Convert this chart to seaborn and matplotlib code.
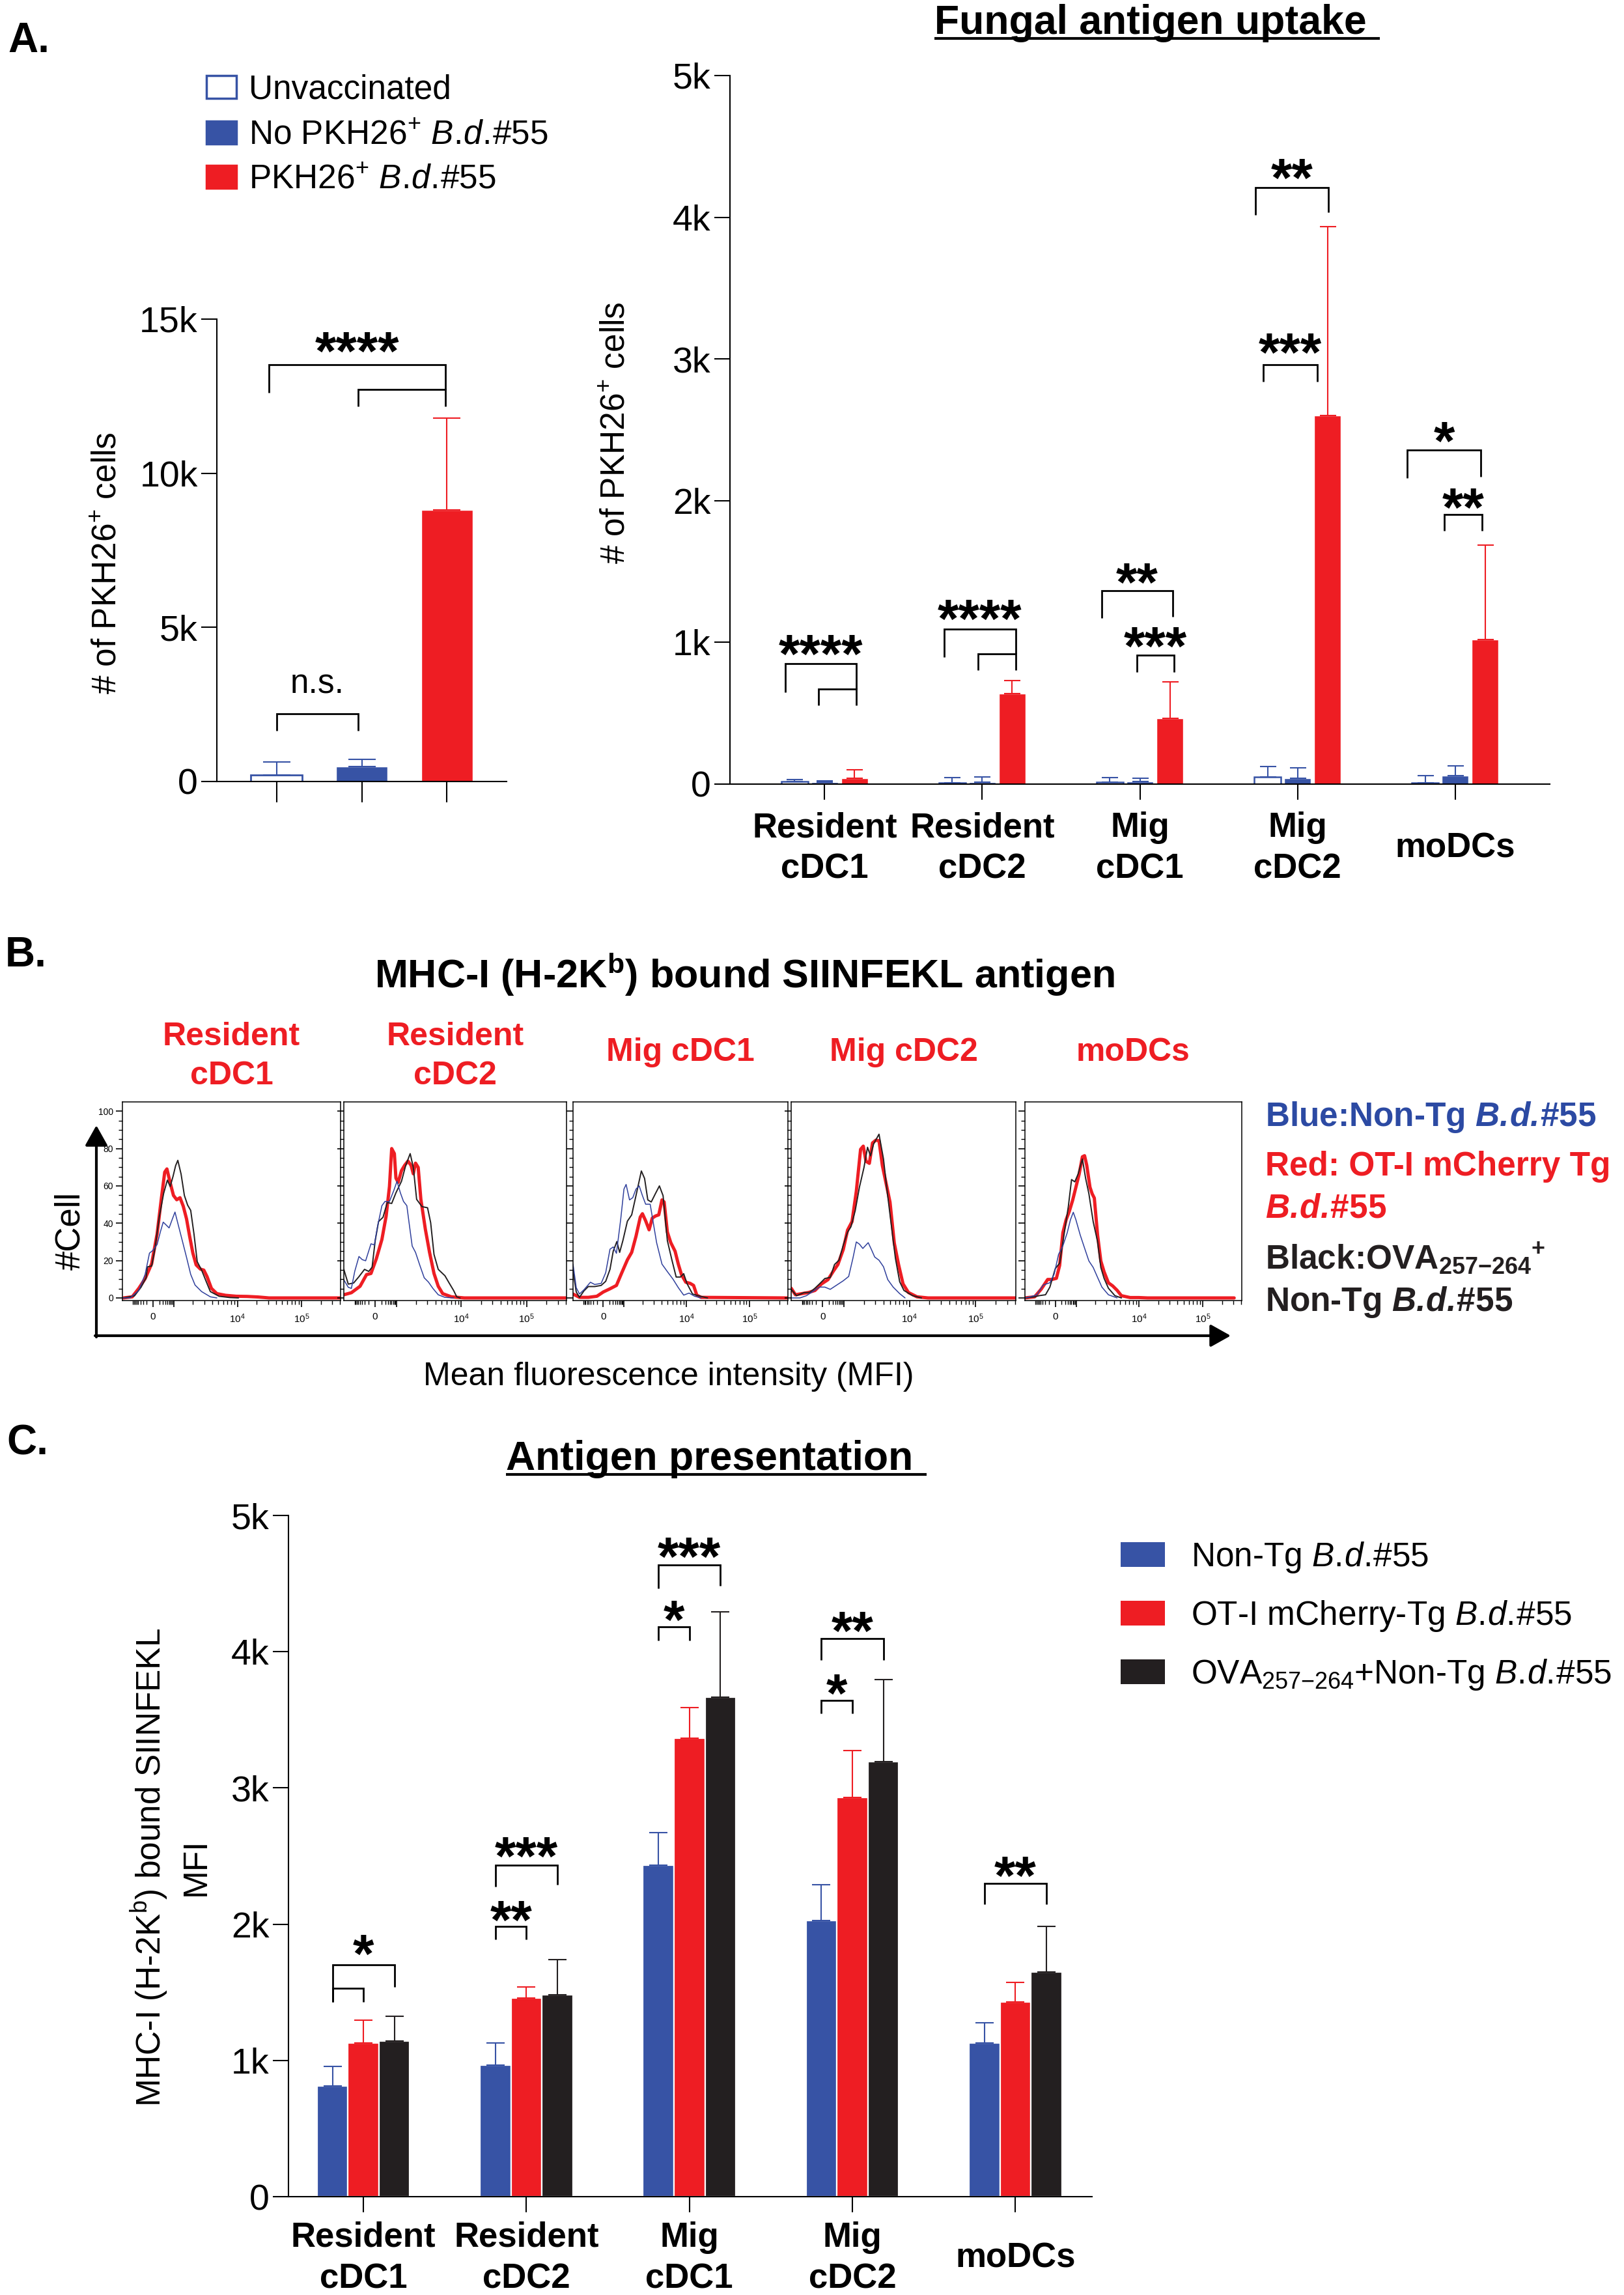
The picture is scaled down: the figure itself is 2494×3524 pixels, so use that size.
import numpy as np
import pandas as pd
import matplotlib
matplotlib.use("Agg")
import matplotlib.pyplot as plt
from matplotlib.patches import Rectangle
from matplotlib.ticker import FixedLocator, FixedFormatter, FuncFormatter, MultipleLocator
import seaborn as sns

# ── Canvas ───────────────────────────────────────────────────────────────────
W, H, DPI = 2494, 3524, 100

BLUE = "#3753A5"
RED = "#EE1D23"
BLACK = "#231F20"
TXT_BLUE = "#2C4AA3"
HIST_BLUE = "#30409C"

# ── Panel A (left): total PKH26+ cells ───────────────────────────────────────
A_GROUPS = ["Unvaccinated", "No PKH26+ B.d.#55", "PKH26+ B.d.#55"]
A_TOTAL_MEAN = [220, 490, 8800]
A_TOTAL_SD = [420, 235, 2990]

# ── Panel A (right): uptake per DC subset ────────────────────────────────────
CELL_TYPES = ["Resident\ncDC1", "Resident\ncDC2", "Mig\ncDC1", "Mig\ncDC2", "moDCs"]
UPTAKE_UNVAC = [20, 10, 12, 50, 10]
UPTAKE_UNVAC_SD = [10, 35, 33, 75, 50]
UPTAKE_NOPKH = [15, 15, 20, 40, 60]
UPTAKE_NOPKH_SD = [10, 35, 20, 75, 70]
UPTAKE_PKH = [40, 640, 465, 2600, 1020]
UPTAKE_PKH_SD = [60, 90, 255, 1335, 665]

# ── Panel C: SIINFEKL presentation MFI ───────────────────────────────────────
C_GROUPS = ["Non-Tg", "OT-I mCherry-Tg", "OVA+Non-Tg"]
MFI_NONTG = [815, 964, 2435, 2028, 1129]
MFI_NONTG_SD = [141, 165, 238, 262, 149]
MFI_OTI = [1129, 1460, 3367, 2931, 1431]
MFI_OTI_SD = [165, 80, 222, 343, 142]
MFI_OVA = [1141, 1484, 3665, 3194, 1649]
MFI_OVA_SD = [182, 258, 629, 600, 335]

# ── Panel B: histograms (x = display channel 0-1000, y = % of max) ───────────
HIST_TITLES = ["Resident\ncDC1", "Resident\ncDC2", "Mig cDC1", "Mig cDC2", "moDCs"]

H1_BLUE_X = [0, 35, 75, 104, 124, 139, 159, 174, 187, 202, 214, 229, 241, 254, 274, 294, 313, 333, 363, 403, 433]
H1_BLUE_Y = [0, 0, 4, 12.6, 24, 25.4, 28.6, 35.4, 40.6, 38.9, 37.5, 42.3, 46, 40, 30.9, 21.7, 12.6, 6.9, 3.4, 0.6, 0]
H1_RED_X = [5, 45, 75, 104, 134, 159, 179, 194, 204, 219, 234, 249, 264, 279, 294, 308, 323, 338, 358, 373, 388, 408, 433, 473, 522, 572, 622, 672, 1000]
H1_RED_Y = [0, 0.6, 5.1, 10.3, 18.3, 34.3, 53.7, 67.4, 69.1, 61.7, 54.9, 52.6, 53.7, 49.1, 42.3, 33.1, 24, 17.7, 15.4, 14.9, 11.4, 5.1, 2.3, 1.4, 0.9, 0.8, 0.5, 0, 0]
H1_BLACK_X = [5, 55, 85, 109, 114, 134, 149, 169, 189, 206, 219, 232, 244, 254, 269, 284, 299, 313, 328, 343, 363, 383, 403, 443, 493, 532]
H1_BLACK_Y = [0, 1.1, 5.7, 10.9, 16.6, 17.1, 26.3, 43.4, 56, 63.1, 59.7, 65.1, 70.9, 73.7, 66.3, 54.9, 49.7, 46.9, 34.3, 19.4, 14.9, 9.1, 3.4, 0.9, 0.2, 0]

H2_BLUE_X = [0, 20, 34, 49, 68, 83, 98, 122, 137, 151, 171, 185, 205, 224, 239, 254, 268, 283, 293, 307, 322, 341, 361, 380, 400, 424, 454, 493]
H2_BLUE_Y = [9.7, 5.7, 5.1, 14.2, 22.2, 20.5, 19.9, 29, 28.4, 38, 49.4, 51.7, 51.7, 57.4, 62.5, 56.3, 51.7, 49.4, 40.3, 27.8, 24.4, 17.6, 10.8, 8.5, 5.1, 1.7, 0.3, 0]
H2_RED_X = [0, 34, 73, 102, 122, 146, 171, 190, 205, 215, 227, 234, 244, 259, 273, 288, 302, 312, 322, 334, 346, 366, 385, 405, 424, 444, 483, 541, 1000]
H2_RED_Y = [1.7, 2.8, 6.25, 12.5, 13.1, 21, 31.3, 43.8, 59.7, 80, 77.3, 64.2, 61.9, 68.2, 71, 73.3, 71, 66.5, 72.2, 69.9, 52.8, 36.9, 24.4, 13.1, 6.25, 2.3, 0.6, 0, 0]
H2_BLACK_X = [0, 20, 44, 68, 93, 112, 127, 141, 156, 176, 195, 215, 234, 259, 278, 298, 312, 327, 351, 376, 390, 405, 424, 454, 473, 493, 507, 522]
H2_BLACK_Y = [15.3, 7.4, 8, 11.4, 15.3, 14.2, 16.5, 30.7, 40.9, 43.2, 51.1, 50.6, 56.3, 62.5, 71, 77.3, 70, 52.8, 48.9, 48.3, 40.3, 23.3, 15.3, 11.9, 8, 4, 0.6, 0]

H3_BLUE_X = [0, 15, 30, 51, 81, 101, 131, 152, 172, 187, 202, 222, 237, 247, 263, 278, 293, 308, 323, 338, 359, 374, 389, 414, 439, 465, 490, 515, 540, 566, 596]
H3_BLUE_Y = [18.1, 5.5, 2.1, 4.4, 8.4, 7.2, 7.8, 13.5, 26.1, 27.3, 23.9, 42.2, 58.3, 60.8, 52.5, 53.7, 58.3, 60, 54.8, 50.2, 50.2, 39.9, 29.6, 18.1, 14.1, 10.1, 5.5, 1.5, 2.6, 0.9, 0]
H3_RED_X = [0, 30, 71, 111, 141, 172, 202, 227, 253, 273, 293, 313, 323, 338, 354, 369, 384, 399, 414, 424, 439, 455, 475, 490, 505, 525, 545, 561, 576, 596, 1000]
H3_RED_Y = [2.1, 0.3, 0.3, 0.9, 3.2, 4.9, 6.7, 13.5, 20.4, 24.4, 33, 43.3, 45.1, 41.3, 36.5, 42.8, 43.9, 44.5, 52.5, 51.4, 35.3, 29.6, 25, 18.1, 12.4, 8.4, 7.8, 6.7, 1.5, 0.3, 0]
H3_BLACK_X = [0, 15, 30, 51, 71, 101, 131, 152, 172, 187, 204, 217, 232, 253, 273, 293, 318, 333, 348, 364, 384, 402, 419, 439, 460, 480, 500, 515, 530, 556, 586, 626]
H3_BLACK_Y = [14.7, 3.2, 0.3, 3.8, 6.1, 6.1, 6.7, 8.9, 15.3, 25, 30.2, 24.4, 30.7, 41.1, 44.5, 54.8, 68, 64, 52.5, 51.4, 56, 60, 54.8, 30.7, 20.4, 11.2, 11.2, 13, 7.8, 2.1, 1.1, 0]

H4_BLUE_X = [0, 39, 68, 97, 126, 150, 174, 203, 232, 256, 275, 290, 304, 319, 343, 357, 372, 391, 411, 430, 454, 483, 507]
H4_BLUE_Y = [0, 0, 1.2, 3.5, 5.8, 5.8, 4.6, 6.9, 9.2, 11.5, 21.3, 30, 28.8, 26.5, 29.6, 26, 21.9, 20.2, 16.7, 9.8, 5.8, 2.3, 0]
H4_RED_X = [0, 19, 48, 77, 106, 135, 164, 188, 208, 232, 251, 271, 290, 309, 321, 333, 348, 362, 377, 391, 406, 425, 440, 459, 478, 498, 522, 560, 609, 1000]
H4_RED_Y = [5.2, 1.7, 2.3, 2.9, 4, 7.5, 9.8, 14.4, 17.9, 26, 36.3, 40.9, 57.1, 79.6, 81.3, 73.2, 72.1, 83, 84.5, 84.2, 70.9, 60, 51.3, 29.4, 17.9, 7.5, 2.9, 0.6, 0, 0]
H4_BLACK_X = [0, 24, 58, 82, 106, 126, 150, 174, 193, 213, 232, 251, 266, 285, 304, 324, 340, 353, 367, 391, 411, 425, 445, 464, 483, 502, 541, 580]
H4_BLACK_Y = [4.6, 1.2, 2.9, 2.9, 5.2, 7.5, 10.4, 11, 17.9, 20.2, 28.3, 35.2, 38.1, 46.7, 59.4, 69.8, 80.7, 76.1, 82.5, 87.7, 74.4, 59.4, 39.8, 21.3, 8.7, 4, 1.2, 0]

H5_BLUE_X = [0, 25, 55, 85, 115, 135, 155, 175, 195, 210, 223, 235, 255, 275, 295, 315, 335, 355, 385, 425]
H5_BLUE_Y = [0, 0.6, 1.7, 7, 8.1, 12.8, 23.3, 27.9, 34.9, 41.9, 45.9, 41.9, 33.7, 26.7, 19.8, 16.3, 11, 5.8, 1.7, 0]
H5_RED_X = [0, 45, 75, 105, 125, 145, 160, 175, 190, 205, 220, 235, 250, 265, 275, 285, 300, 310, 320, 335, 350, 365, 385, 405, 425, 445, 485, 525, 565, 965]
H5_RED_Y = [0, 0.6, 4.7, 9.9, 9.9, 10.5, 17.4, 34.9, 41.9, 46.5, 52.3, 59.3, 66.3, 75.6, 76.2, 71.1, 59.3, 55.8, 53.5, 33.7, 19.8, 14, 8.1, 6.4, 4.1, 1.2, 0.2, 0.2, 0, 0]
H5_BLACK_X = [0, 45, 65, 95, 115, 140, 160, 180, 200, 215, 230, 245, 265, 280, 295, 315, 335, 350, 365, 385, 415, 445]
H5_BLACK_Y = [0, 0.6, 1.2, 1.7, 5.8, 15.7, 18.6, 33.7, 48.8, 63.4, 62.2, 66.3, 74.4, 64, 55.8, 40.7, 30.2, 16.3, 10.5, 5.2, 1.2, 0]

# ── Style ────────────────────────────────────────────────────────────────────
sns.set_style("ticks")
plt.rcParams.update({
    "font.family": ["Liberation Sans", "DejaVu Sans"],
    "text.color": "black",
    "axes.edgecolor": "black",
    "axes.labelcolor": "black",
    "xtick.color": "black",
    "ytick.color": "black",
    "axes.linewidth": 1.5,
    "mathtext.fontset": "custom",
    "mathtext.rm": "Liberation Sans",
    "mathtext.it": "Liberation Sans:italic",
    "mathtext.bf": "Liberation Sans:bold",
    "mathtext.bfit": "Liberation Sans:italic:bold",
    "mathtext.sf": "Liberation Sans",
})

# italic species name; "\!" cancels the space mathtext puts after a dot
BD_IT = "$\\mathit{B.\\!d.\\!}$"
BD_BFIT = "$\\mathbfit{B.\\!d.\\!}$"


def rect(x0, y0, x1, y1):
    """pixel box (top-left origin) -> figure fraction rect"""
    return [x0 / W, 1 - y1 / H, (x1 - x0) / W, (y1 - y0) / H]


def k_fmt(v, _):
    return "0" if v == 0 else f"{v / 1000:g}k"


def style_bar_axes(ax, ymax, xtick_len):
    sns.despine(ax=ax)
    ax.set_ylim(0, ymax)
    ax.yaxis.set_major_locator(MultipleLocator(ymax / 5 if ymax == 5000 else 5000))
    ax.yaxis.set_major_formatter(FuncFormatter(k_fmt))
    ax.tick_params(axis="y", length=17, width=1.5, labelsize=40, pad=4)
    ax.tick_params(axis="x", length=xtick_len, width=1.5)
    ax.set_xlabel("")
    ax.set_ylabel("")


def bracket(ax, xa, xb, y, ya, yb, label="", ty=None, size=60, bold=True, lift=0.55):
    ax.plot([xa, xa, xb, xb], [ya, y, y, yb], color="black", lw=2,
            clip_on=False, solid_joinstyle="miter", solid_capstyle="butt")
    if label:
        ax.annotate(label, ((xa + xb) / 2, ty), xytext=(0, -lift * size),
                    textcoords="offset points", ha="center", va="baseline",
                    fontsize=size, fontweight="bold" if bold else "normal",
                    annotation_clip=False)


def grouped_errorbars(ax, slot, sds, colors, capsize):
    for bar in ax.patches:
        w = bar.get_width()
        if w <= 0:
            continue
        xc = bar.get_x() + w / 2
        cat = int(round(xc))
        hue = int(round((xc - cat) / slot)) + 1
        ax.errorbar(xc, bar.get_height(), yerr=[[0], [sds[hue][cat]]], fmt="none",
                    ecolor=colors[hue], elinewidth=1.5, capsize=capsize,
                    capthick=1.5, clip_on=False)


def hx(cat, h, slot):
    return cat + (h - 1) * slot


fig = plt.figure(figsize=(W / DPI, H / DPI), dpi=DPI)
ov = fig.add_axes([0, 0, 1, 1])
ov.set_xlim(0, W)
ov.set_ylim(H, 0)
ov.axis("off")

# ═════════════════════════════════════════════════════════════════════════════
# PANEL A — left: total uptake
# ═════════════════════════════════════════════════════════════════════════════
axL = fig.add_axes(rect(333, 490, 778, 1200))
dfL = pd.DataFrame({"group": A_GROUPS, "cells": A_TOTAL_MEAN})
sns.barplot(data=dfL, x="group", y="cells", hue="group", order=A_GROUPS,
            hue_order=A_GROUPS, palette=[BLUE, BLUE, RED], width=0.6,
            errorbar=None, saturation=1, legend=False, ax=axL)
l_colors = [BLUE, BLUE, RED]
for bar in axL.patches:
    xc = bar.get_x() + bar.get_width() / 2
    i = int(round(xc))
    if i == 0:
        bar.set_facecolor("white")
        bar.set_edgecolor(BLUE)
        bar.set_linewidth(2)
    axL.errorbar(xc, bar.get_height(), yerr=[[0], [A_TOTAL_SD[i]]], fmt="none",
                 ecolor=l_colors[i], elinewidth=1.5, capsize=15, capthick=1.5)
style_bar_axes(axL, 15000, 23)
axL.set_xlim(-0.7, 2.7)
axL.set_xticks([0, 1, 2])
axL.set_xticklabels([])

bracket(axL, -0.09, 1.98, 13517, 12607, 12725, "****", 14327)
bracket(axL, 0.96, 1.98, 12725, 12169, 12169)
bracket(axL, 0.0, 0.96, 2191, 1652, 1652, "n.s.", 3152, size=37, bold=False, lift=0.26)

# legend for panel A
leg_rows = [("Unvaccinated", "white"),
            ("No PKH26$^{+}$ " + BD_IT + "#55", BLUE),
            ("PKH26$^{+}$ " + BD_IT + "#55", RED)]
for (label, fc), yc in zip(leg_rows, [133, 203, 271]):
    ov.add_patch(Rectangle((317, yc - 17.5), 46, 35, facecolor=fc,
                           edgecolor=BLUE if fc == "white" else fc, lw=2.5))
    ov.text(382, yc + 18, label, fontsize=37, va="baseline")

ov.text(165, 865, "# of PKH26$^{+}$ cells", rotation=90, ha="center", va="center", fontsize=37)

# ═════════════════════════════════════════════════════════════════════════════
# PANEL A — right: uptake by subset
# ═════════════════════════════════════════════════════════════════════════════
axR = fig.add_axes(rect(1121, 116, 2380, 1204))
dfR = pd.DataFrame({
    "cell": CELL_TYPES * 3,
    "group": [g for g in A_GROUPS for _ in CELL_TYPES],
    "cells": UPTAKE_UNVAC + UPTAKE_NOPKH + UPTAKE_PKH,
})
sns.barplot(data=dfR, x="cell", y="cells", hue="group", order=CELL_TYPES,
            hue_order=A_GROUPS, palette=[BLUE, BLUE, RED], width=0.57, gap=0.1,
            errorbar=None, saturation=1, legend=False, ax=axR)
slotR = 0.57 / 3
for bar in axR.containers[0]:
    bar.set_facecolor("white")
    bar.set_edgecolor(BLUE)
    bar.set_linewidth(1.8)
grouped_errorbars(axR, slotR, [UPTAKE_UNVAC_SD, UPTAKE_NOPKH_SD, UPTAKE_PKH_SD],
                  [BLUE, BLUE, RED], 9)
style_bar_axes(axR, 5000, 17)
axR.set_xlim(-0.6, 4.6)
axR.set_xticks(range(5))
axR.set_xticklabels(CELL_TYPES, fontsize=38, fontweight="bold", linespacing=1.33)
axR.tick_params(axis="x", pad=54)
plt.setp(axR.get_xticklabels(), va="center")

# (category, from-bar, to-bar, y, left leg end, right leg end, label, label y)
R_BRACKETS = [
    (0, -0.3, 2.07, 850, 649, 673, "****", 998),
    (0, 0.8, 2.07, 673, 558, 558, "", None),
    (1, -0.28, 2.13, 1096, 895, 920, "****", 1244),
    (1, 0.87, 2.13, 920, 805, 805, "", None),
    (2, -0.28, 2.1, 1363, 1170, 1182, "**", 1502),
    (2, 0.9, 2.15, 911, 792, 792, "***", 1051),
    (3, -0.4, 2.04, 4210, 4017, 4035, "**", 4357),
    (3, -0.15, 1.65, 2960, 2840, 2840, "***", 3125),
    (4, -0.6, 1.85, 2357, 2160, 2170, "*", 2500),
    (4, 0.63, 1.9, 1902, 1786, 1786, "**", 2031),
]
for cat, ha_, hb_, y, ya, yb, lab, ty in R_BRACKETS:
    bracket(axR, hx(cat, ha_, slotR), hx(cat, hb_, slotR), y, ya, yb, lab, ty)

t_up = ov.text(1767, 52, "Fungal antigen uptake", ha="center", va="baseline",
               fontsize=45, fontweight="bold")
ov.text(946, 665, "# of PKH26$^{+}$ cells", rotation=90, ha="center", va="center", fontsize=37)
ov.text(12, 80, "A.", fontsize=46, fontweight="bold", va="baseline")

# ═════════════════════════════════════════════════════════════════════════════
# PANEL B — flow histograms
# ═════════════════════════════════════════════════════════════════════════════
HIST_BOXES = [(188, 523), (528, 870), (880, 1210), (1215, 1560), (1574, 1907)]
HIST_TOP, HIST_BOTTOM = 1692, 1997
HIST_CURVES = [
    ((H1_RED_X, H1_RED_Y), (H1_BLACK_X, H1_BLACK_Y), (H1_BLUE_X, H1_BLUE_Y)),
    ((H2_RED_X, H2_RED_Y), (H2_BLACK_X, H2_BLACK_Y), (H2_BLUE_X, H2_BLUE_Y)),
    ((H3_RED_X, H3_RED_Y), (H3_BLACK_X, H3_BLACK_Y), (H3_BLUE_X, H3_BLUE_Y)),
    ((H4_RED_X, H4_RED_Y), (H4_BLACK_X, H4_BLACK_Y), (H4_BLUE_X, H4_BLUE_Y)),
    ((H5_RED_X, H5_RED_Y), (H5_BLACK_X, H5_BLACK_Y), (H5_BLUE_X, H5_BLUE_Y)),
]
# biexponential-looking display axis: zero, 10^3, 10^4, 10^5
d0, d3, d4, d5 = 140, 236, 527, 821
major_x = [d0, d3, d4, d5]
major_lbl = ["0", "", "$10^4$", "$10^5$"]
logs = np.log10(np.arange(2, 10))
minor_x = list(d0 + (d3 - d0) * logs) + list(d0 - (d3 - d0) * logs) + \
    list(d3 + (d4 - d3) * logs) + list(d4 + (d5 - d4) * logs) + \
    [v for v in d5 + (d5 - d4) * logs if v < 1000]

for i, ((x0, x1), curves) in enumerate(zip(HIST_BOXES, HIST_CURVES)):
    ax = fig.add_axes(rect(x0, HIST_TOP, x1, HIST_BOTTOM))
    styles = [(RED, 3.6), (BLACK, 1.4), (HIST_BLUE, 1.1)]
    for (xs, ys), (col, lw) in zip(curves, styles):
        sns.lineplot(x=xs, y=ys, color=col, lw=lw, ax=ax, estimator=None,
                     sort=False, errorbar=None, solid_joinstyle="round",
                     solid_capstyle="round")
    ax.set_xlim(0, 1000)
    ax.set_ylim(-1.4, 105)
    for s in ax.spines.values():
        s.set_linewidth(1.1)
    ax.xaxis.set_major_locator(FixedLocator(major_x))
    ax.xaxis.set_major_formatter(FixedFormatter(major_lbl))
    ax.xaxis.set_minor_locator(FixedLocator(minor_x))
    ax.yaxis.set_major_locator(FixedLocator(range(0, 101, 20)))
    ax.yaxis.set_minor_locator(FixedLocator(range(0, 101, 5)))
    ax.tick_params(axis="both", which="major", length=7, width=1.2, labelsize=10, pad=3)
    ax.tick_params(axis="both", which="minor", length=4, width=1.0)
    ax.tick_params(axis="x", labelsize=11, pad=6)
    ax.tick_params(axis="y", labelleft=(i == 0))
    ax.set_xlabel("")
    ax.set_ylabel("")
    cx = (x0 + x1) / 2
    ov.text(cx, 1622 if "\n" in HIST_TITLES[i] else 1616, HIST_TITLES[i],
            ha="center", va="center", fontsize=36, fontweight="bold",
            color=RED, linespacing=1.39)

ov.text(8, 1484, "B.", fontsize=46, fontweight="bold", va="baseline")
ov.text(1143, 1517, "MHC-I (H-2K$^{\\mathbf{b}}$) bound SIINFEKL antigen",
        ha="center", va="baseline", fontsize=44, fontweight="bold")
ov.text(108, 1890, "#Cell", rotation=90, ha="center", va="center", fontsize=38)
ov.text(1027, 2127, "Mean fluorescence intensity (MFI)", ha="center",
        va="baseline", fontsize=36)
arrow = dict(arrowstyle="-|>,head_length=0.5,head_width=0.28", lw=3,
             color="black", shrinkA=0, shrinkB=0, mutation_scale=38)
ov.annotate("", xy=(148, 1728), xytext=(148, 2053), arrowprops=arrow)
ov.annotate("", xy=(1890, 2051), xytext=(146, 2051), arrowprops=arrow)

b_leg = [
    ("Blue:Non-Tg " + BD_BFIT + "#55", TXT_BLUE, 1711),
    ("Red: OT-I mCherry Tg", RED, 1787),
    (BD_BFIT + "#55", RED, 1852),
    ("Black:$\\mathbf{OVA}_{\\mathbf{257{-}264}}{}^{\\mathbf{+}}$", BLACK, 1931),
    ("Non-Tg " + BD_BFIT + "#55", BLACK, 1995),
]
for label, col, yc in b_leg:
    ov.text(1943, yc + 18, label, color=col, fontsize=37, fontweight="bold", va="baseline")

# ═════════════════════════════════════════════════════════════════════════════
# PANEL C — antigen presentation
# ═════════════════════════════════════════════════════════════════════════════
axC = fig.add_axes(rect(443, 2327, 1677, 3373))
dfC = pd.DataFrame({
    "cell": CELL_TYPES * 3,
    "group": [g for g in C_GROUPS for _ in CELL_TYPES],
    "mfi": MFI_NONTG + MFI_OTI + MFI_OVA,
})
sns.barplot(data=dfC, x="cell", y="mfi", hue="group", order=CELL_TYPES,
            hue_order=C_GROUPS, palette=[BLUE, RED, BLACK], width=0.57, gap=0,
            errorbar=None, saturation=1, legend=False, edgecolor="white",
            linewidth=1.6, ax=axC)
slotC = 0.57 / 3
grouped_errorbars(axC, slotC, [MFI_NONTG_SD, MFI_OTI_SD, MFI_OVA_SD],
                  [BLUE, RED, BLACK], 10)
style_bar_axes(axC, 5000, 17)
axC.set_xlim(-0.46, 4.47)
axC.set_xticks(range(5))
axC.set_xticklabels(CELL_TYPES, fontsize=38, fontweight="bold", linespacing=1.35)
axC.tick_params(axis="x", pad=51)
plt.setp(axC.get_xticklabels(), va="center")

C_BRACKETS = [
    (0, 0, 2, 1702, 1431, 1540, "*", 1863),
    (0, 0, 1, 1532, 1431, 1431, "", None),
    (1, 0, 2, 2435, 2274, 2290, "***", 2581),
    (1, 0, 1, 1984, 1887, 1887, "**", 2113),
    (2, 0, 2, 4637, 4464, 4484, "***", 4778),
    (2, 0, 1, 4181, 4081, 4081, "*", 4315),
    (3, 0, 2, 4097, 3940, 3940, "**", 4234),
    (3, 0, 1, 3641, 3548, 3548, "*", 3778),
    (4, 0, 2, 2298, 2145, 2145, "**", 2440),
]
for cat, ha_, hb_, y, ya, yb, lab, ty in C_BRACKETS:
    bracket(axC, hx(cat, ha_, slotC), hx(cat, hb_, slotC), y, ya, yb, lab, ty)

c_leg = [("Non-Tg " + BD_IT + "#55", BLUE),
         ("OT-I mCherry-Tg " + BD_IT + "#55", RED),
         ("OVA$_{\\mathrm{257{-}264}}$+Non-Tg " + BD_IT + "#55", BLACK)]
for (label, col), yc in zip(c_leg, [2387, 2477, 2567]):
    ov.add_patch(Rectangle((1721, yc - 19), 68, 38, facecolor=col, edgecolor="none"))
    ov.text(1829, yc + 18, label, fontsize=37, va="baseline")

ov.text(10, 2233, "C.", fontsize=46, fontweight="bold", va="baseline")
t_ap = ov.text(1090, 2257, "Antigen presentation", ha="center", va="baseline",
               fontsize=45, fontweight="bold")
ov.text(262, 2867, "MHC-I (H-2K$^{\\mathrm{b}}$) bound SIINFEKL\nMFI", rotation=90,
        ha="center", va="center", fontsize=37, linespacing=1.45,
        multialignment="center")

# underlines for the two underlined titles
fig.canvas.draw()
renderer = fig.canvas.get_renderer()
for t, base in [(t_up, 52), (t_ap, 2257)]:
    bb = t.get_window_extent(renderer)
    ov.plot([bb.x0, bb.x1 + 20], [base + 7, base + 7], color="black", lw=3,
            solid_capstyle="butt")

fig.savefig("out.png", dpi=DPI)
